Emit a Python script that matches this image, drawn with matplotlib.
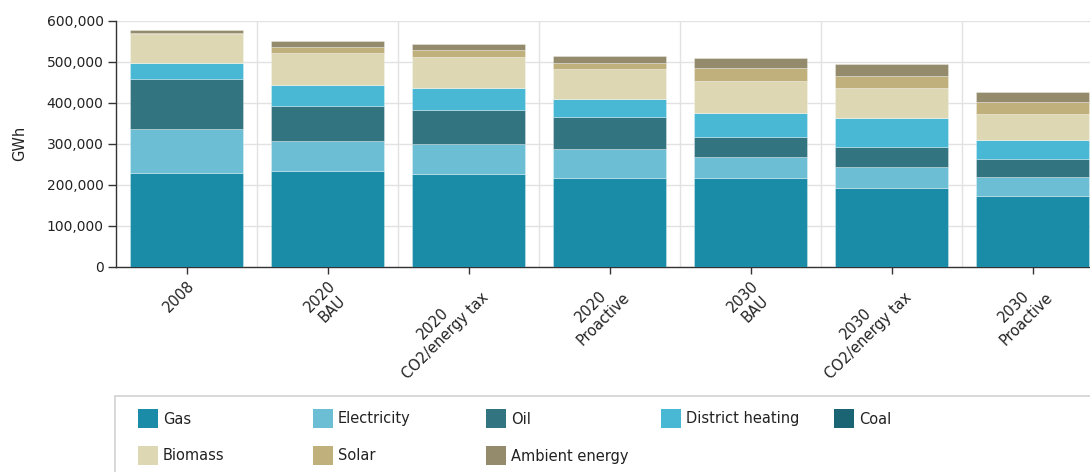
import matplotlib
matplotlib.use("Agg")
import matplotlib.pyplot as plt
from matplotlib.patches import Rectangle
from matplotlib.ticker import FuncFormatter, MultipleLocator
import numpy as np

# Final energy demand by carrier (GWh) per scenario
categories = ["2008", "2020\nBAU", "2020\nCO2/energy tax", "2020\nProactive",
              "2030\nBAU", "2030\nCO2/energy tax", "2030\nProactive"]

gas = [228000, 233000, 225000, 216000, 216000, 193000, 173000]
electricity = [107000, 73000, 75000, 71000, 51000, 51000, 45000]
oil = [123000, 86000, 82000, 78000, 50000, 47000, 44000]
district_heating = [39000, 50000, 54000, 43000, 59000, 71000, 46000]
coal = [0, 0, 0, 0, 0, 0, 0]
biomass = [70000, 79000, 76000, 73000, 76000, 74000, 65000]
solar = [4000, 15000, 17000, 17000, 32000, 30000, 28000]
ambient_energy = [6000, 15000, 15000, 17000, 24000, 28000, 24000]

series_names = ["Gas", "Electricity", "Oil", "District heating", "Coal",
                "Biomass", "Solar", "Ambient energy"]
series_values = [gas, electricity, oil, district_heating, coal,
                 biomass, solar, ambient_energy]
series_colors = ["#1b8ca8", "#6cbed4", "#327581", "#48b8d4", "#1a6473",
                 "#ded7b3", "#bfb07c", "#948b6c"]

W, H = 1090, 472
fig = plt.figure(figsize=(W / 100, H / 100), dpi=100)
plt.rcParams["font.family"] = ["DejaVu Sans"]

# Axes placed in pixel terms; the plot area runs past the right edge
ax_left, ax_right, ax_top, ax_bottom = 116, 1103, 20.7, 266.7
ax = fig.add_axes([ax_left / W, 1 - ax_bottom / H,
                   (ax_right - ax_left) / W, (ax_bottom - ax_top) / H])

x = np.arange(len(categories))
bottom = np.zeros(len(categories))
for name, vals, col in zip(series_names, series_values, series_colors):
    vals = np.asarray(vals, dtype=float)
    ax.bar(x, vals, width=0.8, bottom=bottom, color=col, label=name,
           edgecolor=(1, 1, 1, 0.35), linewidth=0.6, zorder=3)
    bottom += vals

ax.set_xlim(-0.5, len(categories) - 0.5)
ax.set_ylim(0, 600000)
ax.yaxis.set_major_locator(MultipleLocator(100000))
ax.yaxis.set_major_formatter(FuncFormatter(lambda v, p: f"{int(v):,}"))

# Horizontal grid on value ticks, vertical grid between categories
ax.grid(axis="y", color="#e2e2e2", linewidth=1.0, zorder=0)
for b in np.arange(0.5, len(categories) - 0.5, 1.0):
    ax.axvline(b, color="#e2e2e2", linewidth=1.0, zorder=0)

for s in ["top", "right"]:
    ax.spines[s].set_visible(False)
for s in ["left", "bottom"]:
    ax.spines[s].set_color("#333333")
    ax.spines[s].set_linewidth(1.0)

ax.set_xticks(x)
ax.set_xticklabels(categories, rotation=45, ha="right", va="top",
                   rotation_mode="anchor", multialignment="center",
                   fontsize=10.5, color="#222222")
for lbl in ax.get_xticklabels():
    lbl.set_x(lbl.get_position()[0])
ax.tick_params(axis="x", length=5, width=1, color="#333333", pad=3)
ax.tick_params(axis="y", length=6, width=1, color="#333333", pad=3,
               labelsize=10, labelcolor="#222222")

fig.text(20 / W, 1 - 143 / H, "GWh", rotation=90, ha="center", va="center",
         fontsize=10.5, color="#222222")

# Legend panel
fig.patches.append(Rectangle((115 / W, 1 - 480 / H), 1000 / W, 84 / H,
                             transform=fig.transFigure, facecolor="white",
                             edgecolor="#d2d2d2", linewidth=1.2, zorder=0))
col_x = [138, 313, 486, 661, 834]
row_y = [409, 446]
for i, (name, col) in enumerate(zip(series_names, series_colors)):
    r, c = divmod(i, 5)
    px, py = col_x[c], row_y[r]
    fig.patches.append(Rectangle((px / W, 1 - (py + 19) / H), 20 / W, 19 / H,
                                 transform=fig.transFigure, facecolor=col,
                                 edgecolor="none"))
    fig.text((px + 25) / W, 1 - (py + 10) / H, name, ha="left", va="center",
             fontsize=10.5, color="#222222")

fig.savefig("out.png", dpi=100)
